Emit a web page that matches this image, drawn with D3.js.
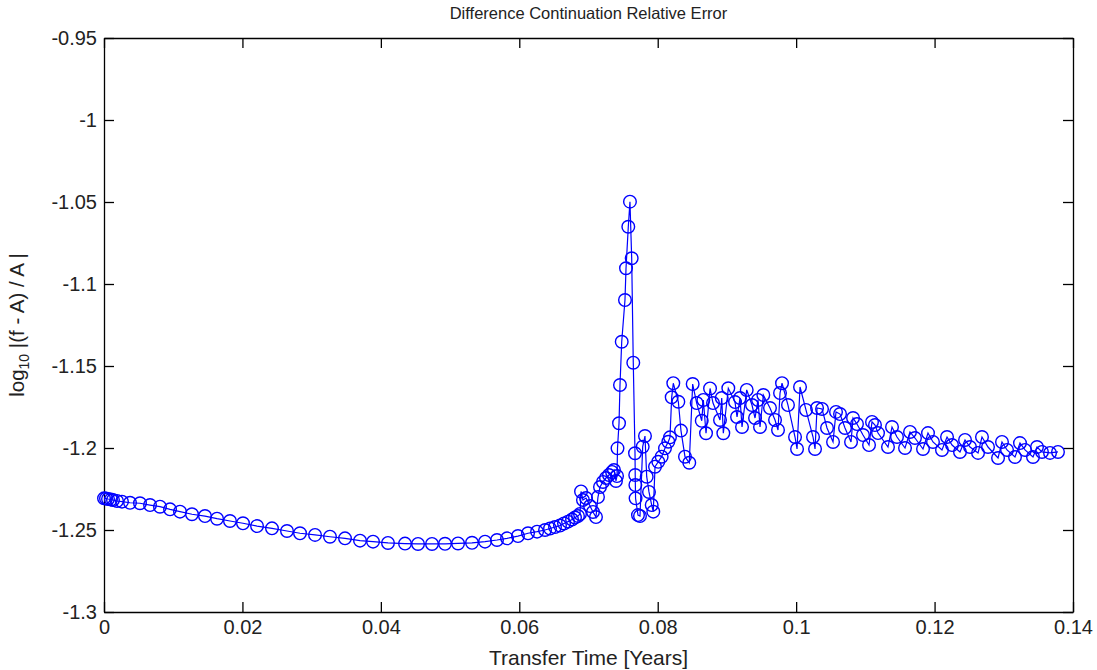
<!DOCTYPE html>
<html>
<head>
<meta charset="utf-8">
<script src="https://cdn.jsdelivr.net/npm/d3@7"></script>
<style>
body { margin: 0; background: #fff; }
text { font-family: "Liberation Sans", Arial, sans-serif; }
</style>
</head>
<body>
<div id="chart"></div>
<script>
// values
const transferTime = [
    0, 0.00029, 0.00058, 0.00101, 0.00130, 0.00188, 0.00260, 0.00376, 0.00520, 0.00665,
    0.00809, 0.00954, 0.01098, 0.01271, 0.01459, 0.01633, 0.01820, 0.02008, 0.02211, 0.02427,
    0.02644, 0.02832, 0.03049, 0.03265, 0.03482, 0.03699, 0.03887, 0.04103, 0.04349, 0.04537,
    0.04739, 0.04927, 0.05115, 0.05317, 0.05505, 0.05678, 0.05823, 0.05981, 0.06126, 0.06257,
    0.06372, 0.06444, 0.06516, 0.06588, 0.06646, 0.06704, 0.06762, 0.06805, 0.06848, 0.06877,
    0.06892, 0.06920, 0.06964, 0.07022, 0.07065, 0.07108, 0.07137, 0.07166, 0.07209, 0.07253,
    0.07296, 0.07340, 0.07368, 0.07397, 0.07412,
    0.07419, 0.07441, 0.07455, 0.07480, 0.07527, 0.07542, 0.07575, 0.07599, 0.07624, 0.07647,
    0.07672, 0.07675, 0.07677, 0.07680, 0.07715, 0.07744, 0.07783, 0.07816, 0.07841, 0.07874,
    0.07913, 0.07936, 0.07961, 0.08008, 0.08057, 0.08105, 0.08153, 0.08177, 0.08202, 0.08225,
    0.08298, 0.08336, 0.08394, 0.08456,
    0.08505, 0.08563, 0.08636, 0.08659, 0.08698, 0.08756, 0.08799, 0.08900, 0.08925, 0.08948,
    0.09020, 0.09117, 0.09146, 0.09189, 0.09218, 0.09286, 0.09362, 0.09406, 0.09449, 0.09478,
    0.09526, 0.09622, 0.09695, 0.09738, 0.09767, 0.09796, 0.09882, 0.09984, 0.10013, 0.10056,
    0.10142, 0.10244, 0.10273, 0.10302, 0.10374, 0.10446, 0.10533, 0.10576, 0.10634, 0.10706,
    0.10793, 0.10822, 0.10879, 0.10966, 0.11053, 0.11096, 0.11139, 0.11183, 0.11327, 0.11385,
    0.11457, 0.11573, 0.11645, 0.11717, 0.11833, 0.11905, 0.11977, 0.12107, 0.12180, 0.12252,
    0.12367, 0.12440, 0.12512, 0.12628, 0.12685, 0.12772, 0.12917, 0.12974, 0.13047, 0.13162,
    0.13234, 0.13307, 0.13422, 0.13480, 0.13552, 0.13668, 0.13783
];
const logError = [
    -1.2307, -1.2308, -1.2311, -1.2314, -1.2317, -1.2323, -1.2327, -1.2334, -1.2337, -1.2348,
    -1.2358, -1.2374, -1.2388, -1.2404, -1.2415, -1.2431, -1.2445, -1.2459, -1.2476, -1.2490,
    -1.2506, -1.2520, -1.2530, -1.2541, -1.2551, -1.2565, -1.2571, -1.2579, -1.2583, -1.2585,
    -1.2585, -1.2584, -1.2582, -1.2578, -1.2571, -1.2561, -1.2551, -1.2537, -1.2520, -1.2510,
    -1.2500, -1.2491, -1.2482, -1.2473, -1.2460, -1.2449, -1.2436, -1.2424, -1.2415, -1.2402,
    -1.2265, -1.2317, -1.2305, -1.2354, -1.2390, -1.2421, -1.2299, -1.2238, -1.2207, -1.2183,
    -1.2165, -1.2146, -1.2134, -1.2201, -1.2171,
    -1.2002, -1.1849, -1.1616, -1.1352, -1.1098, -1.0904, -1.0651, -1.0498, -1.0843, -1.1480,
    -1.2032, -1.2165, -1.2226, -1.2307, -1.2409, -1.2415, -1.1992, -1.1927, -1.2175, -1.2268,
    -1.2348, -1.2388, -1.2114, -1.2084, -1.2053, -1.2002, -1.1962, -1.1935, -1.1691, -1.1605,
    -1.1718, -1.1894, -1.2053, -1.2090,
    -1.1610, -1.1726, -1.1834, -1.1707, -1.1910, -1.1637, -1.1726, -1.1829, -1.1695, -1.1910,
    -1.1636, -1.1720, -1.1811, -1.1695, -1.1872, -1.1646, -1.1738, -1.1817, -1.1707, -1.1872,
    -1.1677, -1.1756, -1.1829, -1.1890, -1.1665, -1.1605, -1.1738, -1.1933, -1.2006, -1.1628,
    -1.1768, -1.1933, -1.2006, -1.1756, -1.1762, -1.1878, -1.1963, -1.1780, -1.1793, -1.1878,
    -1.1963, -1.1817, -1.1854, -1.1921, -1.1982, -1.1841, -1.1860, -1.1909, -1.1994, -1.1872,
    -1.1933, -1.2000, -1.1902, -1.1939, -1.2006, -1.1909, -1.1963, -1.2012, -1.1933, -1.1982,
    -1.2024, -1.1951, -1.1994, -1.2030, -1.1933, -1.1994, -1.2061, -1.1963, -1.2012, -1.2055,
    -1.1970, -1.2012, -1.2055, -1.1994, -1.2024, -1.2030, -1.2024
];

const xTicks = [0, 0.02, 0.04, 0.06, 0.08, 0.1, 0.12, 0.14];
const xTickLabels = ["0", "0.02", "0.04", "0.06", "0.08", "0.1", "0.12", "0.14"];
const yTicks = [-1.3, -1.25, -1.2, -1.15, -1.1, -1.05, -1, -0.95];
const yTickLabels = ["-1.3", "-1.25", "-1.2", "-1.15", "-1.1", "-1.05", "-1", "-0.95"];

const chartTitle = "Difference Continuation Relative Error";
const xTitle = "Transfer Time [Years]";

const width = 1097, height = 670;
const margin = { top: 38, right: 24, bottom: 58, left: 104 };
const chartWidth = width - margin.left - margin.right;
const chartHeight = height - margin.top - margin.bottom;

const data = transferTime.map((t, i) => ({ t: t, v: logError[i] }));

const svg = d3.select("#chart").append("svg")
    .attr("width", width)
    .attr("height", height);

const g = svg.append("g")
    .attr("transform", `translate(${margin.left},${margin.top})`);

const x = d3.scaleLinear()
    .domain([0, 0.14])
    .range([0, chartWidth]);

const y = d3.scaleLinear()
    .domain([-1.3, -0.95])
    .range([chartHeight, 0]);

// axes, MATLAB style: ticks pointing in on every side
g.append("g")
    .attr("transform", `translate(0,${chartHeight})`)
    .call(d3.axisBottom(x)
        .tickValues(xTicks)
        .tickFormat((d, i) => xTickLabels[i])
        .tickSizeInner(-10)
        .tickSizeOuter(0)
        .tickPadding(8))
    .call(a => a.selectAll("text").style("font-size", "20px").attr("fill", "#222"));

g.append("g")
    .call(d3.axisLeft(y)
        .tickValues(yTicks)
        .tickFormat((d, i) => yTickLabels[i])
        .tickSizeInner(-10)
        .tickSizeOuter(0)
        .tickPadding(7))
    .call(a => a.selectAll("text").style("font-size", "20px").attr("fill", "#222"));

g.append("g")
    .call(d3.axisTop(x)
        .tickValues(xTicks)
        .tickFormat("")
        .tickSizeInner(-10)
        .tickSizeOuter(0));

g.append("g")
    .attr("transform", `translate(${chartWidth},0)`)
    .call(d3.axisRight(y)
        .tickValues(yTicks)
        .tickFormat("")
        .tickSizeInner(-10)
        .tickSizeOuter(0));

g.selectAll(".domain, .tick line")
    .attr("stroke", "#000")
    .attr("stroke-width", 1.3);

const line = d3.line()
    .x(d => x(d.t))
    .y(d => y(d.v));

g.append("path")
    .datum(data)
    .attr("fill", "none")
    .attr("stroke", "#0000ff")
    .attr("stroke-width", 1.2)
    .attr("d", line);

g.selectAll(".dot")
    .data(data)
    .enter().append("circle")
    .attr("class", "dot")
    .attr("cx", d => x(d.t))
    .attr("cy", d => y(d.v))
    .attr("r", 6.3)
    .attr("fill", "none")
    .attr("stroke", "#0000ff")
    .attr("stroke-width", 1.4);

svg.append("text")
    .attr("x", margin.left + chartWidth / 2)
    .attr("y", 19)
    .attr("text-anchor", "middle")
    .style("font-size", "16.5px")
    .attr("fill", "#222")
    .text(chartTitle);

svg.append("text")
    .attr("x", margin.left + chartWidth / 2)
    .attr("y", 665)
    .attr("text-anchor", "middle")
    .style("font-size", "21px")
    .attr("fill", "#222")
    .text(xTitle);

const yTitle = svg.append("text")
    .attr("transform", `translate(24,${margin.top + chartHeight / 2}) rotate(-90)`)
    .attr("text-anchor", "middle")
    .style("font-size", "20.5px")
    .attr("fill", "#222");
yTitle.append("tspan").text("log");
yTitle.append("tspan").attr("dy", 5).style("font-size", "14px").text("10");
yTitle.append("tspan").attr("dy", -5).text(" |(f - A) / A |");
</script>
</body>
</html>
